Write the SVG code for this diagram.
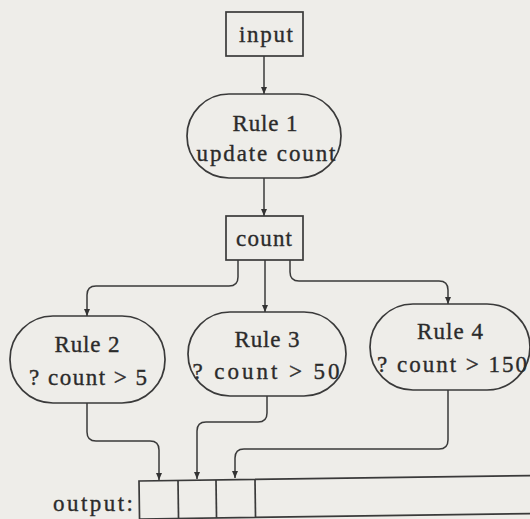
<svg xmlns="http://www.w3.org/2000/svg" width="530" height="519" viewBox="0 0 530 519">
  <style>
    .bg { fill: #eeede9; }
    .box { fill: none; stroke: #3a3a3a; stroke-width: 1.7; }
    .wire { fill: none; stroke: #3a3a3a; stroke-width: 1.5; }
    .lbl { font-family: "Liberation Serif", "Times New Roman", serif; font-size: 23px; fill: #2b2b2b; stroke: #2b2b2b; stroke-width: 0.35; text-anchor: middle; }
  </style>
  <defs>
    <marker id="arrow" markerUnits="userSpaceOnUse" markerWidth="8" markerHeight="8" refX="7" refY="4" orient="auto">
      <path d="M0,1 L7,4 L0,7 Z" fill="#333"/>
    </marker>
  </defs>

  <rect class="bg" x="0" y="0" width="530" height="519"/>

  <g id="input">
    <rect class="box" x="226" y="12" width="77" height="44"/>
    <text class="lbl" x="266" y="42" textLength="54" lengthAdjust="spacing">input</text>
  </g>

  <g id="rule1">
    <rect class="box" x="187" y="94" width="154" height="84" rx="42" ry="42"/>
    <text class="lbl" x="265" y="131" textLength="65" lengthAdjust="spacing">Rule 1</text>
    <text class="lbl" x="266" y="161" textLength="139" lengthAdjust="spacing">update count</text>
  </g>

  <g id="count">
    <rect class="box" x="226" y="216" width="77" height="44"/>
    <text class="lbl" x="264" y="246" textLength="56" lengthAdjust="spacing">count</text>
  </g>

  <g id="rule2">
    <rect class="box" x="10" y="316" width="155" height="87" rx="43" ry="43"/>
    <text class="lbl" x="87" y="352" textLength="65" lengthAdjust="spacing">Rule 2</text>
    <text class="lbl" x="88" y="385" textLength="118" lengthAdjust="spacing">? count &gt; 5</text>
  </g>

  <g id="rule3">
    <rect class="box" x="188" y="312" width="158" height="84" rx="42" ry="42"/>
    <text class="lbl" x="267" y="347" textLength="65" lengthAdjust="spacing">Rule 3</text>
    <text class="lbl" x="266" y="379" textLength="147" lengthAdjust="spacing">? count &gt; 50</text>
  </g>

  <g id="rule4">
    <rect class="box" x="370" y="304" width="160" height="86" rx="43" ry="43"/>
    <text class="lbl" x="450" y="339" textLength="66" lengthAdjust="spacing">Rule 4</text>
    <text class="lbl" x="452" y="372" textLength="150" lengthAdjust="spacing">? count &gt; 150</text>
  </g>

  <g id="output">
    <text class="lbl" x="93" y="511" textLength="80" lengthAdjust="spacing">output:</text>
    <g transform="rotate(-0.8 139 481)">
      <rect class="box" x="139" y="481" width="420" height="38"/>
      <line class="box" x1="178" y1="481" x2="178" y2="519"/>
      <line class="box" x1="216" y1="481" x2="216" y2="519"/>
      <line class="box" x1="255" y1="481" x2="255" y2="519"/>
    </g>
  </g>

  <g id="connectors">
    <path class="wire" d="M264,56 V94" marker-end="url(#arrow)"/>
    <path class="wire" d="M264,178 V216" marker-end="url(#arrow)"/>
    <path class="wire" d="M238,260 V277 Q238,286 229,286 H96 Q87,286 87,295 V316" marker-end="url(#arrow)"/>
    <path class="wire" d="M265,260 V312" marker-end="url(#arrow)"/>
    <path class="wire" d="M290,260 V272 Q290,281 299,281 H439 Q448,281 448,290 V304" marker-end="url(#arrow)"/>
    <path class="wire" d="M87,403 V432 Q87,441 96,441 H150 Q159,441 159,450 V480" marker-end="url(#arrow)"/>
    <path class="wire" d="M267,396 V413 Q267,422 258,422 H206 Q197,422 197,431 V479" marker-end="url(#arrow)"/>
    <path class="wire" d="M448,390 V440 Q448,449 439,449 H244 Q235,449 235,458 V478" marker-end="url(#arrow)"/>
  </g>
</svg>
